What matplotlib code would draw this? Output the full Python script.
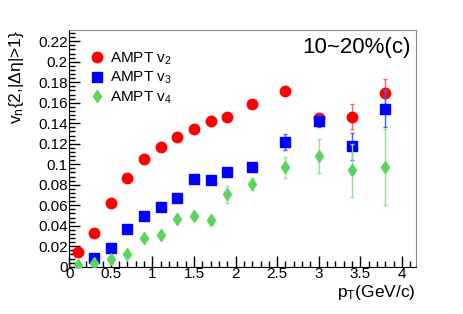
import matplotlib
matplotlib.use("Agg")
import matplotlib.pyplot as plt
from matplotlib.ticker import MultipleLocator
from matplotlib.lines import Line2D

pt2 = [0.1, 0.3, 0.5, 0.7, 0.9, 1.1, 1.3, 1.5, 1.7, 1.9, 2.2, 2.6, 3.0, 3.4, 3.8]
v2 = [0.0146, 0.0326, 0.0625, 0.0863, 0.105, 0.1166, 0.1267, 0.1345, 0.1426, 0.1459, 0.159, 0.1716, 0.1455, 0.1465, 0.170]
v2_err = [0.001, 0.001, 0.001, 0.001, 0.001, 0.001, 0.001, 0.001, 0.001, 0.0015, 0.002, 0.002, 0.003, 0.012, 0.0135]

pt3 = [0.3, 0.5, 0.7, 0.9, 1.1, 1.3, 1.5, 1.7, 1.9, 2.2, 2.6, 3.0, 3.4, 3.8]
v3 = [0.0082, 0.0183, 0.0368, 0.0492, 0.0583, 0.0668, 0.086, 0.085, 0.0928, 0.0974, 0.1215, 0.1423, 0.1176, 0.1543]
v3_err = [0.001, 0.001, 0.001, 0.001, 0.001, 0.001, 0.002, 0.002, 0.003, 0.003, 0.008, 0.006, 0.013, 0.018]

pt4 = [0.1, 0.3, 0.5, 0.7, 0.9, 1.1, 1.3, 1.5, 1.7, 1.9, 2.2, 2.6, 3.0, 3.4, 3.8]
v4 = [0.0017, 0.0033, 0.0078, 0.012, 0.0277, 0.031, 0.0469, 0.0498, 0.0453, 0.0707, 0.081, 0.097, 0.108, 0.094, 0.0974]
v4_err = [0.001, 0.001, 0.001, 0.0015, 0.002, 0.002, 0.002, 0.002, 0.004, 0.0085, 0.006, 0.0105, 0.0166, 0.026, 0.037]

labels = ["AMPT v$_2$", "AMPT v$_3$", "AMPT v$_4$"]

plt.rcParams['font.family'] = ['Liberation Sans', 'DejaVu Sans']
plt.rcParams['mathtext.fontset'] = 'custom'
plt.rcParams['mathtext.rm'] = 'Liberation Sans'
plt.rcParams['mathtext.it'] = 'Liberation Sans'

fig = plt.figure(figsize=(4.63, 3.14), dpi=100)
ax = fig.add_axes([69.3/463, 47.3/314, (416-69.3)/463, (266.7-30)/314])

styles = [
    dict(marker='o', color='#ff0000', ecolor='#ff6060', ms=7.5),
    dict(marker='s', color='#0000ff', ecolor='#4060ff', ms=6.5),
    dict(marker='d', color='#5fd35f', ecolor='#8fe08f', ms=6.5),
]
series = [(pt2, v2, v2_err), (pt3, v3, v3_err), (pt4, v4, v4_err)]
handles = []
for i, ((x, y, e), st, lab) in enumerate(zip(series, styles, labels)):
    ax.errorbar(x, y, yerr=e, fmt=st['marker'], color=st['color'], ecolor=st['ecolor'],
                ms=st['ms'], mec=st['color'], elinewidth=1, capsize=1.2, zorder=3 + i)
    handles.append(Line2D([], [], ls='none', marker=st['marker'], color=st['color'],
                          mec=st['color'], ms=st['ms'], label=lab))

ax.set_xlim(0, 4.17)
ax.set_ylim(0, 0.231)
ax.xaxis.set_major_locator(MultipleLocator(0.5))
ax.xaxis.set_minor_locator(MultipleLocator(0.1))
ax.yaxis.set_major_locator(MultipleLocator(0.02))
ax.yaxis.set_minor_locator(MultipleLocator(0.004))
ax.xaxis.set_major_formatter(plt.FuncFormatter(lambda v, p: ('%g' % v)))
ax.yaxis.set_major_formatter(plt.FuncFormatter(lambda v, p: ('%g' % round(v, 3))))
ax.tick_params(which='both', direction='in', labelsize=11, top=False, right=False)
ax.tick_params(which='major', length=8, width=1)
ax.tick_params(which='minor', length=4, width=1)
ax.tick_params(axis='x', pad=0.5)
ax.tick_params(axis='y', pad=1)
for s in ['top', 'right']:
    ax.spines[s].set_color('#888888')
for s in ['left', 'bottom']:
    ax.spines[s].set_color('black')

ax.legend(handles=handles, loc='upper left', bbox_to_anchor=(0.035, 0.94),
          frameon=False, fontsize=11, handletextpad=0.3, labelspacing=0.22,
          handlelength=1.2, borderaxespad=0)

ax.text(0.985, 0.925, "10~20%(c)", transform=ax.transAxes, ha='right', va='center', fontsize=16)

fig.text(17/463, 1 - 30/314, "v$_n${2,|$\\Delta\\eta$|>1}", rotation=90, ha='center', va='top', fontsize=12.5)
fig.text(416/463, 1 - 283/314, "p$_T$(GeV/c)", ha='right', va='top', fontsize=12.5)

fig.savefig("out.png", dpi=100)
